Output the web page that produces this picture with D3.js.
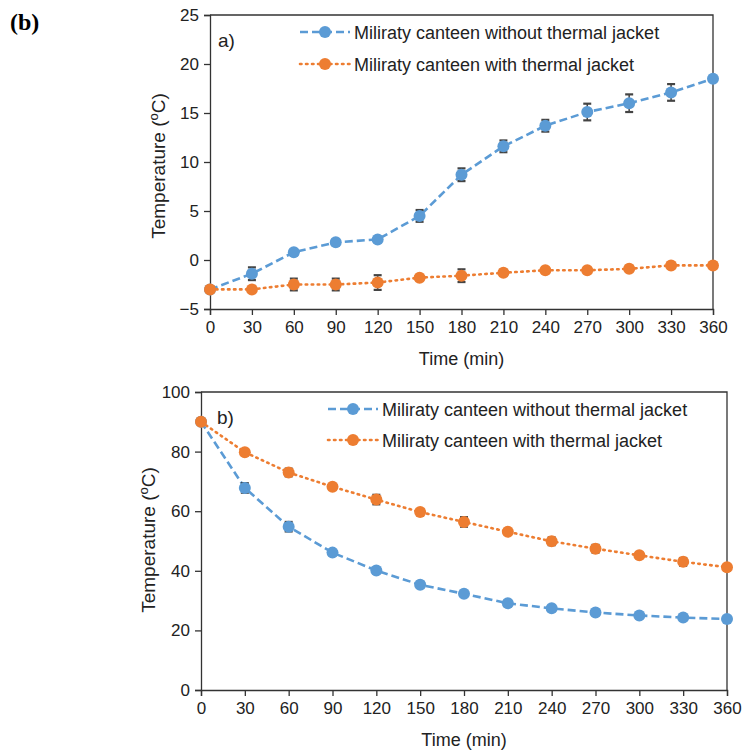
<!DOCTYPE html>
<html>
<head>
<meta charset="utf-8">
<script src="https://cdn.jsdelivr.net/npm/d3@7"></script>
<style>
  body { margin: 0; background: #fff; }
  svg { font-family: "Liberation Sans", Arial, sans-serif; }
</style>
</head>
<body>
<svg id="chart" width="745" height="750"></svg>
<script>
// time points (min)
var times = [0, 30, 60, 90, 120, 150, 180, 210, 240, 270, 300, 330, 360];
var seriesNames = ["Miliraty canteen without thermal jacket", "Miliraty canteen with thermal jacket"];

// panel a) cold water
var aWithout    = [-3.0, -1.4, 0.8, 1.8, 2.1, 4.5, 8.7, 11.6, 13.7, 15.1, 16.0, 17.1, 18.5];
var aWithoutErr = [0.1, 0.65, 0.2, 0.3, 0.2, 0.6, 0.65, 0.6, 0.6, 0.85, 0.9, 0.85, 0.2];
var aWith       = [-3.0, -3.0, -2.5, -2.5, -2.3, -1.8, -1.6, -1.3, -1.05, -1.05, -0.9, -0.55, -0.55];
var aWithErr    = [0.1, 0.2, 0.6, 0.6, 0.75, 0.2, 0.65, 0.3, 0.2, 0.2, 0.3, 0.2, 0.2];
var aTicks      = [-5, 0, 5, 10, 15, 20, 25];

// panel b) hot water
var bWithout    = [90, 67.8, 54.8, 46.1, 40.1, 35.3, 32.3, 29.1, 27.4, 26.0, 25.0, 24.3, 23.8];
var bWithoutErr = [0.5, 1.6, 1.6, 0.8, 0.5, 1.0, 0.8, 1.0, 0.8, 0.8, 0.8, 0.5, 0.5];
var bWith       = [90, 79.8, 73.0, 68.2, 63.9, 59.7, 56.4, 53.1, 49.9, 47.4, 45.2, 43.0, 41.2];
var bWithErr    = [0.5, 0.5, 1.3, 0.8, 1.6, 0.8, 1.6, 0.5, 1.3, 1.3, 0.8, 1.3, 1.0];
var bTicks      = [0, 20, 40, 60, 80, 100];

var blue = "#5b9bd5", orange = "#ed7d31", axisCol = "#333";

var svg = d3.select("#chart");

svg.append("text")
    .attr("x", 10).attr("y", 30)
    .style("font-family", "'Liberation Serif', 'Times New Roman', serif")
    .style("font-weight", "bold")
    .style("font-size", "24px")
    .text("(b)");

function drawPanel(cfg) {
    var x = d3.scaleLinear().domain([0, 360]).range([cfg.left, cfg.right]);
    var y = d3.scaleLinear().domain(cfg.yDomain).range([cfg.bottom, cfg.top]);
    var g = svg.append("g");

    // frame (top and right)
    g.append("path")
        .attr("d", "M" + cfg.left + "," + cfg.top + "H" + cfg.right + "V" + cfg.bottom)
        .attr("fill", "none").attr("stroke", axisCol).attr("stroke-width", 1.3);

    var yAxis = g.append("g")
        .attr("transform", "translate(" + cfg.left + ",0)")
        .call(d3.axisLeft(y).tickValues(cfg.ticks).tickSize(6).tickPadding(5));
    var xAxis = g.append("g")
        .attr("transform", "translate(0," + cfg.bottom + ")")
        .call(d3.axisBottom(x).tickValues(times).tickSize(6).tickPadding(6));
    [xAxis, yAxis].forEach(function (a) {
        a.select(".domain").attr("stroke", axisCol).attr("stroke-width", 1.3);
        a.selectAll(".tick line").attr("stroke", axisCol).attr("stroke-width", 1.3);
        a.selectAll("text").attr("fill", "#222").style("font-size", "17px")
            .style("font-family", "'Liberation Sans', Arial, sans-serif");
    });

    g.append("text")
        .attr("x", (cfg.left + cfg.right) / 2).attr("y", cfg.bottom + 56)
        .attr("text-anchor", "middle").attr("fill", "#222")
        .style("font-size", "18px")
        .text("Time (min)");

    var yt = g.append("text")
        .attr("transform", "translate(" + cfg.yTitleX + "," + cfg.yTitleY + ") rotate(-90)")
        .attr("text-anchor", "middle").attr("fill", "#222")
        .style("font-size", "19px");
    yt.append("tspan").text("Temperature (");
    yt.append("tspan").attr("dy", -7).style("font-size", "13px").text("o");
    yt.append("tspan").attr("dy", 7).text("C)");

    g.append("text")
        .attr("x", cfg.labelX).attr("y", cfg.top + 32)
        .attr("fill", "#222").style("font-size", "19px")
        .text(cfg.label);

    var series = [
        { vals: cfg.without, err: cfg.withoutErr, color: blue, dash: "8,4", cap: "butt" },
        { vals: cfg.with, err: cfg.withErr, color: orange, dash: "1.5,4.5", cap: "round" }
    ];

    var line = d3.line().x(function (d) { return x(d[0]); }).y(function (d) { return y(d[1]); });

    series.forEach(function (s) {
        var pts = times.map(function (t, i) { return [t, s.vals[i], s.err[i]]; });
        g.append("path").datum(pts)
            .attr("d", line).attr("fill", "none")
            .attr("stroke", s.color).attr("stroke-width", 2.6)
            .attr("stroke-dasharray", s.dash).attr("stroke-linecap", s.cap);

        var eb = g.selectAll(null).data(pts).enter().append("g").attr("stroke", "#444").attr("stroke-width", 1.5);
        eb.append("line")
            .attr("x1", function (d) { return x(d[0]); }).attr("x2", function (d) { return x(d[0]); })
            .attr("y1", function (d) { return y(d[1] - d[2]); }).attr("y2", function (d) { return y(d[1] + d[2]); });
        eb.append("line")
            .attr("x1", function (d) { return x(d[0]) - 4; }).attr("x2", function (d) { return x(d[0]) + 4; })
            .attr("y1", function (d) { return y(d[1] - d[2]); }).attr("y2", function (d) { return y(d[1] - d[2]); })
            .attr("stroke-width", 2.2);
        eb.append("line")
            .attr("x1", function (d) { return x(d[0]) - 4; }).attr("x2", function (d) { return x(d[0]) + 4; })
            .attr("y1", function (d) { return y(d[1] + d[2]); }).attr("y2", function (d) { return y(d[1] + d[2]); })
            .attr("stroke-width", 2.2);

        g.selectAll(null).data(pts).enter().append("circle")
            .attr("cx", function (d) { return x(d[0]); })
            .attr("cy", function (d) { return y(d[1]); })
            .attr("r", 6).attr("fill", s.color);
    });

    // legend
    series.forEach(function (s, i) {
        var ly = cfg.legendY + i * cfg.legendGap;
        g.append("line")
            .attr("x1", cfg.legendX).attr("x2", cfg.legendX + 50)
            .attr("y1", ly).attr("y2", ly)
            .attr("stroke", s.color).attr("stroke-width", 2.6)
            .attr("stroke-dasharray", s.dash).attr("stroke-linecap", s.cap);
        g.append("circle").attr("cx", cfg.legendX + 25).attr("cy", ly).attr("r", 6).attr("fill", s.color);
        g.append("text")
            .attr("x", cfg.legendX + 54).attr("y", ly + 6.5)
            .attr("fill", "#222").style("font-size", "18px")
            .text(seriesNames[i]);
    });
}

drawPanel({
    left: 210, right: 713, top: 15, bottom: 309,
    yDomain: [-5, 25], ticks: aTicks, label: "a)", labelX: 218,
    without: aWithout, withoutErr: aWithoutErr, with: aWith, withErr: aWithErr,
    yTitleX: 165, yTitleY: 166, legendX: 300, legendY: 32, legendGap: 32
});

drawPanel({
    left: 201, right: 727, top: 392, bottom: 690,
    yDomain: [0, 100], ticks: bTicks, label: "b)", labelX: 217,
    without: bWithout, withoutErr: bWithoutErr, with: bWith, withErr: bWithErr,
    yTitleX: 155, yTitleY: 540, legendX: 328, legendY: 409, legendGap: 31
});
</script>
</body>
</html>
